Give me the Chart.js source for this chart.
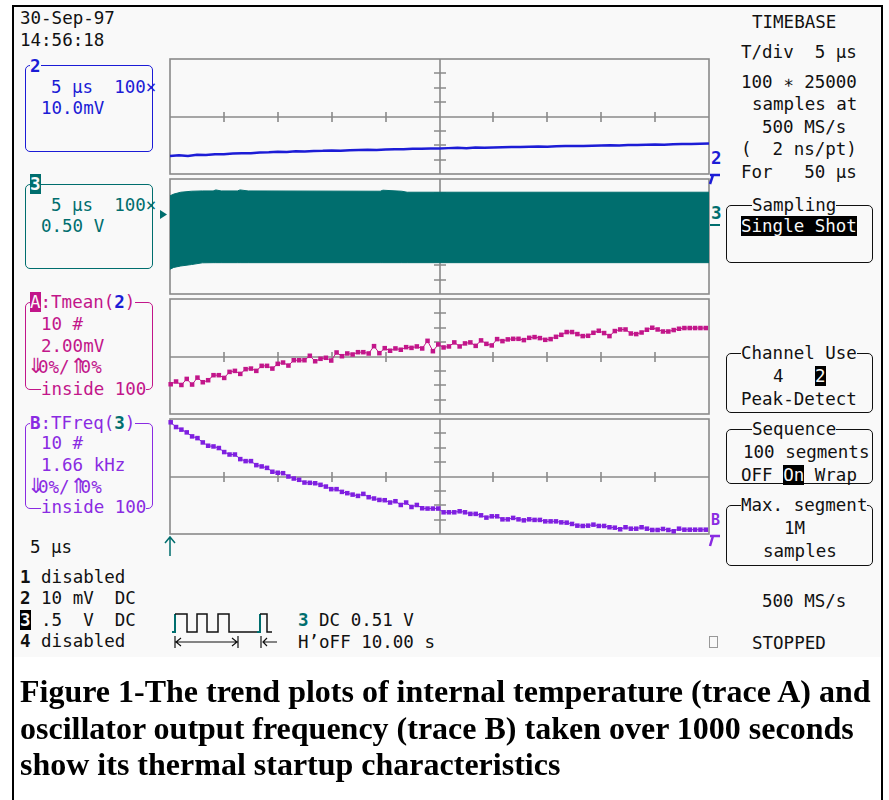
<!DOCTYPE html>
<html><head><meta charset="utf-8">
<script src="https://cdn.jsdelivr.net/npm/chart.js@4.4.0/dist/chart.umd.min.js"></script>
<style>
html,body{margin:0;padding:0;background:#fff;}
#page{position:relative;width:889px;height:800px;overflow:hidden;background:#fff;}
#scope{position:absolute;left:14px;top:7px;width:867px;height:650px;background:#f9f9f9;}
#frame{position:absolute;left:12px;top:5px;width:867px;height:800px;border:2px solid #000;border-bottom:none;}
.t{position:absolute;font-family:'DejaVu Sans Mono',monospace;font-size:17.5px;line-height:20px;white-space:pre;color:#111;}
.bg{background:#f9f9f9;}
.b{font-weight:bold}
.inv{background:#000;color:#f9f9f9}
.ar{font-family:'DejaVu Sans',sans-serif;font-size:21px;line-height:18px;display:inline-block;width:11px;overflow:visible;}
.box{position:absolute;border:1.5px solid;border-radius:5px;}
canvas{position:absolute;}
.cap{position:absolute;left:20px;font-family:'Liberation Serif','Times New Roman',serif;font-weight:bold;font-size:32px;line-height:36.5px;white-space:nowrap;color:#000;}
</style>
</head>
<body>
<div id="page">
<div id="scope"></div>
<div id="frame"></div>

<!-- date / time -->
<div class="t" style="left:20px;top:8px">30-Sep-97</div>
<div class="t" style="left:20px;top:30px">14:56:18</div>

<!-- channel 2 box -->
<div class="box" style="left:25px;top:65px;width:126px;height:85px;border-color:#1c1cd6"></div>
<div class="t b bg" style="left:30px;top:56px;color:#1c1cd6">2</div>
<div class="t" style="left:51px;top:77px;color:#1c1cd6">5 μs  100×</div>
<div class="t" style="left:41px;top:98px;color:#1c1cd6">10.0mV</div>

<!-- channel 3 box -->
<div class="box" style="left:25px;top:184px;width:126px;height:83px;border-color:#006e6e"></div>
<div class="t b" style="left:30px;top:174px;background:#006e6e;color:#f9f9f9">3</div>
<div class="t" style="left:51px;top:195px;color:#006e6e">5 μs  100×</div>
<div class="t" style="left:41px;top:216px;color:#006e6e">0.50 V</div>

<!-- trace A box -->
<div class="box" style="left:25px;top:302px;width:126px;height:86px;border-color:#c2168a"></div>
<div class="t bg" style="left:30px;top:292px;color:#c2168a"><span style="background:#c2168a;color:#f9f9f9">A</span>:Tmean(<span class="b" style="color:#1c1cd6">2</span>)</div>
<div class="t" style="left:41px;top:314px;color:#c2168a">10 #</div>
<div class="t" style="left:41px;top:336px;color:#c2168a">2.00mV</div>
<div class="t bg" style="left:27px;top:357px;color:#c2168a"><span class="ar">⇓</span>0%/<span class="ar">⇑</span>0%</div>
<div class="t bg" style="left:41px;top:379px;color:#c2168a">inside 100</div>

<!-- trace B box -->
<div class="box" style="left:25px;top:423px;width:126px;height:84px;border-color:#8a2be2"></div>
<div class="t bg" style="left:30px;top:413px;color:#8a2be2"><span class="b">B</span>:TFreq(<span class="b" style="color:#006e6e">3</span>)</div>
<div class="t" style="left:41px;top:433px;color:#8a2be2">10 #</div>
<div class="t" style="left:41px;top:455px;color:#8a2be2">1.66 kHz</div>
<div class="t bg" style="left:27px;top:477px;color:#8a2be2"><span class="ar">⇓</span>0%/<span class="ar">⇑</span>0%</div>
<div class="t bg" style="left:41px;top:497px;color:#8a2be2">inside 100</div>

<div class="t" style="left:30px;top:537px">5 μs</div>

<!-- channel status -->
<div class="t" style="left:20px;top:567px"><span class="b">1</span> disabled</div>
<div class="t" style="left:20px;top:588px"><span class="b">2</span> 10 mV  DC</div>
<div class="t" style="left:20px;top:610px"><span class="b inv">3</span> .5  V  DC</div>
<div class="t" style="left:20px;top:631px"><span class="b">4</span> disabled</div>
<div class="t" style="left:298px;top:610px"><span class="b" style="color:#006e6e">3</span> DC 0.51 V</div>
<div class="t" style="left:298px;top:632px">H’oFF 10.00 s</div>

<!-- timebase column -->
<div class="t" style="left:752px;top:12px">TIMEBASE</div>
<div class="t" style="left:741px;top:42px">T/div  5 μs</div>
<div class="t" style="left:741px;top:72px">100 ∗ 25000</div>
<div class="t" style="left:752px;top:94px">samples at</div>
<div class="t" style="left:762px;top:117px">500 MS/s</div>
<div class="t" style="left:741px;top:139px">(  2 ns/pt)</div>
<div class="t" style="left:741px;top:162px">For   50 μs</div>

<div class="box" style="left:726px;top:205px;width:145px;height:56px;border-color:#111"></div>
<div class="t bg" style="left:752px;top:195px">Sampling</div>
<div class="t inv" style="left:741px;top:216px">Single Shot</div>

<div class="box" style="left:726px;top:353px;width:145px;height:58px;border-color:#111"></div>
<div class="t bg" style="left:741px;top:343px">Channel Use</div>
<div class="t" style="left:773px;top:366px">4</div>
<div class="t inv" style="left:815px;top:366px">2</div>
<div class="t" style="left:741px;top:389px">Peak-Detect</div>

<div class="box" style="left:726px;top:429px;width:145px;height:53px;border-color:#111"></div>
<div class="t bg" style="left:752px;top:419px">Sequence</div>
<div class="t" style="left:743px;top:442px">100 segments</div>
<div class="t" style="left:741px;top:465px">OFF <span class="inv">On</span> Wrap</div>

<div class="box" style="left:726px;top:505px;width:145px;height:59px;border-color:#111"></div>
<div class="t bg" style="left:741px;top:495px">Max. segment</div>
<div class="t" style="left:784px;top:518px">1M</div>
<div class="t" style="left:763px;top:541px">samples</div>

<div class="t" style="left:762px;top:591px">500 MS/s</div>
<div class="t" style="left:752px;top:633px">STOPPED</div>

<!-- channel markers on the right of the grid -->
<div class="t b" style="left:711px;top:148px;color:#1c1cd6">2</div>
<div class="t b" style="left:711px;top:203px;color:#006e6e">3</div>
<div class="t b" style="left:711px;top:510px;color:#8a2be2;font-size:15px">B</div>

<canvas id="p1"></canvas>
<canvas id="p2"></canvas>
<canvas id="pA"></canvas>
<canvas id="pB"></canvas>

<svg width="889" height="800" style="position:absolute;left:0;top:0;pointer-events:none">
  <path d="M710 175 L720 175 M713 175 L710 184" stroke="#1c1cd6" stroke-width="2.5" fill="none"/>
  <path d="M710 225 L720 225" stroke="#006e6e" stroke-width="2" fill="none"/>
  <path d="M710 536 L720 536 M713 536 L710 546" stroke="#8a2be2" stroke-width="2.5" fill="none"/>
  <path d="M160 210 L167 214.5 L160 219 Z" fill="#006e6e"/>
  <path d="M170 556 L170 538 M165 543 L170 537 L175 543" stroke="#006e6e" stroke-width="1.5" fill="none"/>
  <path d="M172 632 L175 632 L175 614" stroke="#006e6e" stroke-width="2" fill="none"/>
  <path d="M175 614 L187 614 L187 632 L197 632 L197 614 L207 614 L207 632 L218 632 L218 614 L229 614 L229 632 L258 632" stroke="#111" stroke-width="1.5" fill="none"/>
  <path d="M257 632 L260 632 L260 614" stroke="#006e6e" stroke-width="2" fill="none"/>
  <path d="M260 614 L267 614 L267 632 L272 632" stroke="#111" stroke-width="1.5" fill="none"/>
  <path d="M175 636 L175 648 M238 636 L238 648 M176 642 L237 642 M181 638 L176 642 L181 646 M232 638 L237 642 L232 646 M261 636 L261 648 M263 642 L277 642 M267 638 L263 642 L267 646" stroke="#111" stroke-width="1.2" fill="none"/>
  <rect x="709.5" y="636.5" width="8" height="11" stroke="#999" fill="none"/>
</svg>

<div class="cap" style="top:673px">Figure 1-The trend plots of internal temperature (trace A) and</div>
<div class="cap" style="top:709.5px">oscillator output frequency (trace B) taken over 1000 seconds</div>
<div class="cap" style="top:746px">show its thermal startup characteristics</div>
</div>

<script>
// ---- data (values in screen divisions, grid is +/-4 div vertically) ----
const trace2Mv = [-2.74,-2.70,-2.74,-2.66,-2.68,-2.62,-2.63,-2.58,-2.55,-2.56,-2.50,
  -2.49,-2.46,-2.47,-2.42,-2.44,-2.40,-2.39,-2.36,-2.38,-2.34,
  -2.33,-2.31,-2.33,-2.29,-2.27,-2.28,-2.24,-2.25,-2.22,-2.23,
  -2.20,-2.18,-2.21,-2.16,-2.17,-2.15,-2.14,-2.12,-2.13,-2.10,
  -2.09,-2.10,-2.07,-2.06,-2.05,-2.06,-2.03,-2.02,-2.00,-2.01,
  -1.99,-1.98,-1.97,-1.95,-1.96,-1.93,-1.92,-1.91,-1.90,-1.88];

const trace3Time   = [0, 0.07, 0.2, 0.4, 0.6, 0.8, 0.85, 0.95, 1.25, 1.3, 1.45, 3.9, 3.95, 4.3, 4.4, 10];
const trace3Top    = [2.83, 2.95, 3.08, 3.15, 3.17, 3.17, 3.24, 3.17, 3.17, 3.24, 3.17, 3.15, 3.22, 3.15, 3.08, 3.08];
const trace3Bottom = [-2.28, -2.15, -2.05, -1.95, -1.83, -1.82, -1.82, -1.82, -1.82, -1.82, -1.82, -1.82, -1.82, -1.82, -1.82, -1.82];

const traceATmean = [-1.93,-1.74,-1.98,-1.56,-1.95,-1.47,-1.79,-1.65,-1.30,-1.30,
  -1.49,-1.07,-1.00,-1.21,-0.88,-0.84,-1.00,-0.65,-0.65,-0.84,
  -0.51,-0.42,-0.63,-0.26,-0.26,-0.26,0.05,-0.33,-0.16,-0.09,
  -0.28,0.28,0.02,0.21,0.14,0.30,0.30,0.21,0.72,0.23,
  0.58,0.40,0.56,0.47,0.65,0.60,0.70,0.56,1.09,0.37,
  0.84,0.63,0.70,0.98,0.70,0.91,0.98,0.74,1.12,0.88,
  0.77,1.21,1.07,1.19,1.23,1.23,1.14,1.30,1.35,1.28,
  1.16,1.21,1.37,1.51,1.70,1.70,1.56,1.42,1.44,1.65,
  1.79,1.63,1.42,1.77,1.88,1.88,1.60,1.56,1.67,1.86,
  2.00,1.88,1.74,1.74,1.84,1.93,1.98,1.98,1.98,1.98,1.98];

const traceBTFreq = [3.77,3.44,3.26,3.07,2.79,2.67,2.37,2.14,2.09,1.98,
  1.70,1.53,1.53,1.21,1.07,1.07,0.79,0.70,0.60,0.33,
  0.26,0.23,0.00,-0.14,-0.23,-0.42,-0.44,-0.47,-0.58,-0.70,
  -0.88,-0.88,-1.07,-1.16,-1.26,-1.35,-1.21,-1.44,-1.53,-1.63,
  -1.65,-1.81,-1.72,-1.98,-1.81,-2.12,-1.98,-2.21,-2.23,-2.23,
  -2.23,-2.49,-2.49,-2.49,-2.42,-2.49,-2.60,-2.60,-2.70,-2.86,
  -2.77,-2.77,-2.98,-2.98,-2.88,-2.98,-3.05,-2.98,-3.02,-3.02,
  -3.12,-3.12,-3.12,-3.19,-3.21,-3.30,-3.42,-3.44,-3.42,-3.35,
  -3.44,-3.44,-3.53,-3.56,-3.67,-3.53,-3.63,-3.63,-3.53,-3.63,
  -3.72,-3.72,-3.65,-3.72,-3.81,-3.63,-3.70,-3.70,-3.70,-3.70,-3.70];

// ---- styling / layout ----
const COL = {ch2:'#1c1cd6', ch3:'#006e6e', A:'#c2168a', B:'#7f1fe0', grid:'#8a8a8a'};
const PANEL_LEFT = 170, PANEL_W = 539, PANEL_H = 115, PAD = 10;

const scopeGrid = {
  id: 'scopeGrid',
  beforeDatasetsDraw(chart) {
    const {ctx, chartArea: a, scales: {x, y}} = chart;
    ctx.save();
    ctx.strokeStyle = COL.grid;
    ctx.lineWidth = 1.6;
    ctx.strokeRect(a.left, a.top, a.right - a.left, a.bottom - a.top);
    const cx = Math.round(x.getPixelForValue((x.min + x.max) / 2));
    const cy = Math.round(y.getPixelForValue(0));
    ctx.beginPath();
    ctx.moveTo(a.left, cy); ctx.lineTo(a.right, cy);
    ctx.moveTo(cx, a.top); ctx.lineTo(cx, a.bottom);
    for (let k = 1; k < 10; k++) {
      const px = Math.round(x.getPixelForValue(x.min + k * (x.max - x.min) / 10));
      ctx.moveTo(px, cy - 5); ctx.lineTo(px, cy + 5);
    }
    for (let k = 1; k < 8; k++) {
      const py = Math.round(y.getPixelForValue(y.min + k * (y.max - y.min) / 8));
      ctx.moveTo(cx - 6, py); ctx.lineTo(cx + 6, py);
    }
    ctx.stroke();
    ctx.restore();
  }
};

function pts(xs, ys) { return ys.map((v, i) => ({x: xs[i], y: v})); }
function sampleIndex(n, span) { return Array.from({length: n}, (_, i) => i * span / (n - 1)); }

function panel(id, top, datasets, xmin, xmax) {
  const c = document.getElementById(id);
  c.style.left = (PANEL_LEFT - PAD) + 'px';
  c.style.top = (top - PAD) + 'px';
  c.width = PANEL_W + 2 * PAD;
  c.height = PANEL_H + 2 * PAD;
  return new Chart(c, {
    type: 'line',
    data: {datasets},
    options: {
      responsive: false, animation: false, devicePixelRatio: 1,
      layout: {padding: PAD},
      plugins: {legend: {display: false}, tooltip: {enabled: false}},
      elements: {line: {tension: 0}},
      scales: {
        x: {type: 'linear', min: xmin, max: xmax, display: false},
        y: {type: 'linear', min: -4, max: 4, display: false}
      }
    },
    plugins: [scopeGrid]
  });
}

panel('p1', 59, [{
  data: pts(sampleIndex(trace2Mv.length, 10), trace2Mv),
  borderColor: COL.ch2, borderWidth: 2.5, pointRadius: 0, clip: 3
}], 0, 10);

panel('p2', 179, [
  {data: pts(trace3Time, trace3Top), borderColor: COL.ch3, borderWidth: 1, pointRadius: 0, fill: false, clip: 3},
  {data: pts(trace3Time, trace3Bottom), borderColor: COL.ch3, borderWidth: 1, pointRadius: 0,
   backgroundColor: COL.ch3, fill: '-1', clip: 3}
], 0, 10);

const segIdx = traceATmean.map((_, i) => i);
panel('pA', 299, [{
  data: pts(segIdx, traceATmean), borderColor: COL.A, borderWidth: 1,
  pointStyle: 'rect', pointRadius: 3.2, pointBackgroundColor: COL.A, pointBorderWidth: 0, clip: 4
}], -0.13, 100.6);

panel('pB', 419, [{
  data: pts(segIdx, traceBTFreq), borderColor: COL.B, borderWidth: 1,
  pointStyle: 'rect', pointRadius: 3.2, pointBackgroundColor: COL.B, pointBorderWidth: 0, clip: 4
}], -0.13, 100.6);
</script>
</body></html>
